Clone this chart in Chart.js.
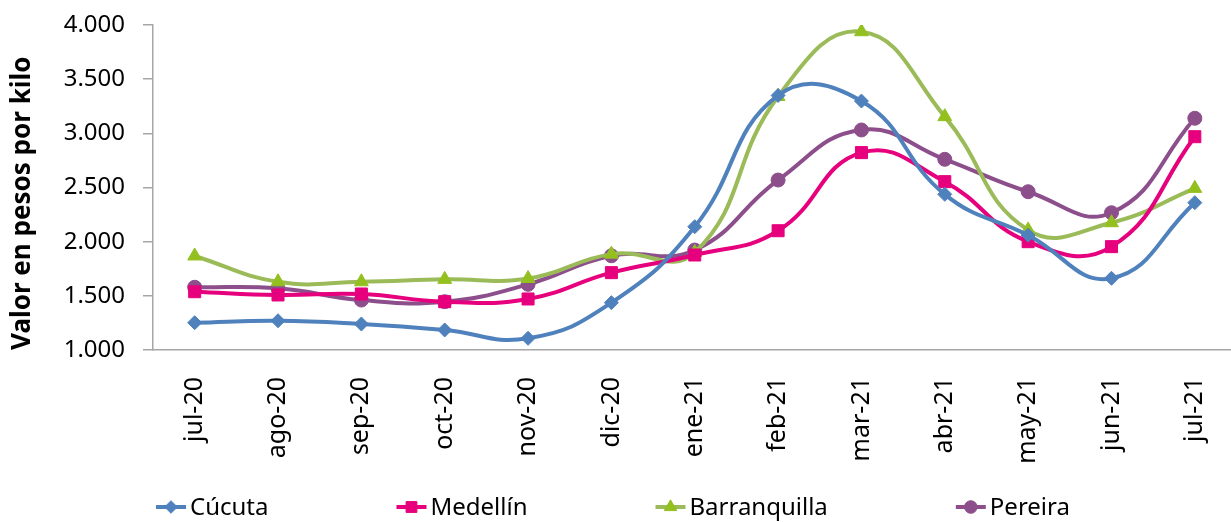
<!DOCTYPE html>
<html>
<head>
<meta charset="utf-8">
<script src="https://cdn.jsdelivr.net/npm/chart.js@4.4.0/dist/chart.umd.min.js"></script>
<style>
  html, body { margin: 0; padding: 0; background: #fff; overflow: hidden; }
  #wrap { position: relative; width: 1246px; height: 522px; }
</style>
</head>
<body>
<div id="wrap"><canvas id="myChart" width="1246" height="522"></canvas></div>
<script>
const months = ["jul-20", "ago-20", "sep-20", "oct-20", "nov-20", "dic-20", "ene-21", "feb-21", "mar-21", "abr-21", "may-21", "jun-21", "jul-21"];
const cucuta = [1252, 1270, 1240, 1185, 1108, 1437, 2138, 3350, 3298, 2437, 2060, 1662, 2360];
const medellin = [1538, 1508, 1517, 1446, 1471, 1714, 1877, 2101, 2822, 2554, 2000, 1954, 2969];
const barranquilla = [1868, 1630, 1630, 1652, 1660, 1885, 1900, 3340, 3938, 3154, 2108, 2175, 2492];
const pereira = [1579, 1569, 1461, 1446, 1606, 1870, 1923, 2569, 3031, 2760, 2461, 2267, 3139];
const yMin = 1000;
const yMax = 4000;
const yStep = 500;

const FONT = "'Noto Sans', 'Open Sans', sans-serif";
const AXIS_GRAY = "#a6a6a6";

// legend drawn by hand: line + marker + label, fixed gap between items
const lineLegend = {
  id: "lineLegend",
  afterDraw(chart, args, opts) {
    const ctx = chart.ctx;
    ctx.save();
    ctx.font = opts.font;
    ctx.textBaseline = "middle";
    let x = chart.chartArea.left + opts.startOffset;
    const y = chart.height - opts.bottomOffset;
    chart.data.datasets.forEach((ds) => {
      ctx.strokeStyle = ds.borderColor;
      ctx.lineWidth = opts.lineWidth;
      ctx.beginPath();
      ctx.moveTo(x, y);
      ctx.lineTo(x + opts.lineLength, y);
      ctx.stroke();
      ctx.fillStyle = ds.pointBackgroundColor;
      ctx.strokeStyle = ds.pointBorderColor;
      ctx.lineWidth = 1;
      Chart.helpers.drawPoint(ctx, { pointStyle: ds.pointStyle, radius: ds.pointRadius * 0.9, borderWidth: 1, rotation: 0 }, x + opts.lineLength / 2, y);
      ctx.fillStyle = "#000";
      ctx.fillText(ds.label, x + opts.lineLength + opts.textGap, y + 1);
      x += opts.lineLength + opts.textGap + ctx.measureText(ds.label).width + opts.itemGap;
    });
    ctx.restore();
  },
};

const ctx = document.getElementById("myChart").getContext("2d");
new Chart(ctx, {
  type: "line",
  data: {
    labels: months,
    datasets: [
      {
        label: "Cúcuta",
        data: cucuta,
        borderColor: "#4f81bd",
        pointBackgroundColor: "#4f81bd",
        pointBorderColor: "#4f81bd",
        pointStyle: "rectRot",
        pointRadius: 7,
      },
      {
        label: "Medellín",
        data: medellin,
        borderColor: "#e6007e",
        pointBackgroundColor: "#e6007e",
        pointBorderColor: "#e6007e",
        pointStyle: "rect",
        pointRadius: 8.5,
      },
      {
        label: "Barranquilla",
        data: barranquilla,
        borderColor: "#9bbb59",
        pointBackgroundColor: "#93c01f",
        pointBorderColor: "#93c01f",
        pointStyle: "triangle",
        pointRadius: 8,
      },
      {
        label: "Pereira",
        data: pereira,
        borderColor: "#8c4f8c",
        pointBackgroundColor: "#8c4f8c",
        pointBorderColor: "#8c4f8c",
        pointStyle: "circle",
        pointRadius: 7,
      },
    ],
  },
  options: {
    responsive: false,
    animation: false,
    events: [],
    layout: {
      padding: { top: 25, right: 0, bottom: 40, left: 0 },
    },
    elements: {
      line: { borderWidth: 4, tension: 0.45, fill: false },
      point: { borderWidth: 1, hoverRadius: 7 },
    },
    scales: {
      x: {
        offset: true,
        grid: { display: false },
        border: { display: true, color: AXIS_GRAY, width: 1.5 },
        ticks: {
          color: "#000",
          font: { family: FONT, size: 25 },
          minRotation: 90,
          maxRotation: 90,
          padding: 19,
          autoSkip: false,
        },
        afterFit: (scale) => {
          scale.height = 132;
          scale.paddingLeft = 0;
          scale.paddingRight = 0;
        },
      },
      y: {
        min: yMin,
        max: yMax,
        grid: {
          drawOnChartArea: false,
          drawTicks: true,
          tickLength: 10,
          color: AXIS_GRAY,
          lineWidth: 1.5,
        },
        border: { display: true, color: AXIS_GRAY, width: 1.5 },
        ticks: {
          stepSize: yStep,
          color: "#000",
          font: { family: FONT, size: 24 },
          padding: 18,
          callback: (v) => String(v).replace(/\B(?=(\d{3})+(?!\d))/g, "."),
        },
        title: {
          display: true,
          text: "Valor en pesos por kilo",
          color: "#000",
          align: "start",
          font: { family: FONT, size: 26, weight: "bold" },
          padding: { top: 7, bottom: 0 },
        },
        afterFit: (scale) => {
          scale.width = 153;
          scale.paddingTop = 0;
          scale.paddingBottom = 0;
        },
      },
    },
    plugins: {
      legend: { display: false },
      tooltip: { enabled: false },
      lineLegend: {
        font: "24px " + FONT,
        startOffset: 3,
        bottomOffset: 15,
        lineLength: 30,
        lineWidth: 4,
        textGap: 4,
        itemGap: 128,
      },
    },
  },
  plugins: [lineLegend],
});
</script>
</body>
</html>
